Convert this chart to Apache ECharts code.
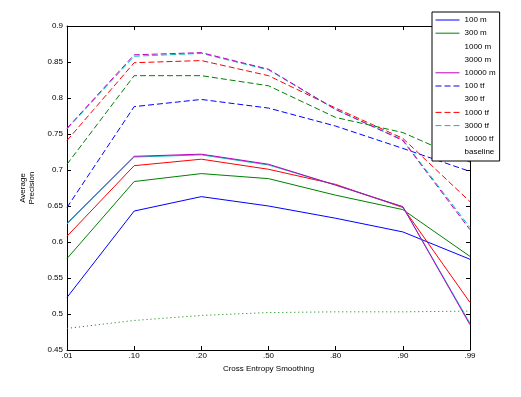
<!DOCTYPE html>
<html>
<head>
<meta charset="utf-8">
<title>Average Precision</title>
<script src="https://cdn.jsdelivr.net/npm/echarts@6/dist/echarts.min.js"></script>
<style>
  html, body { margin: 0; padding: 0; background: #fff; }
  #chart { width: 521px; height: 397px; }
</style>
</head>
<body>
<div id="chart"></div>
<script>
  // x 轴：平滑参数
  var categories = ['.01', '.10', '.20', '.50', '.80', '.90', '.99']
  var yTickLabels = ['0.45', '0.5', '0.55', '0.6', '0.65', '0.7', '0.75', '0.8', '0.85', '0.9']

  // 实线组 (m)
  var m100 = [0.523, 0.643, 0.663, 0.650, 0.633, 0.614, 0.576]
  var m300 = [0.577, 0.684, 0.695, 0.688, 0.665, 0.645, 0.580]
  var m1000 = [0.608, 0.706, 0.715, 0.701, 0.680, 0.648, 0.516]
  var m3000 = [0.625, 0.718, 0.721, 0.707, 0.679, 0.649, 0.487]
  var m10000 = [0.626, 0.719, 0.722, 0.708, 0.679, 0.649, 0.485]
  // 虚线组 (tf)
  var tf100 = [0.648, 0.788, 0.798, 0.786, 0.761, 0.730, 0.698]
  var tf300 = [0.708, 0.831, 0.831, 0.817, 0.773, 0.752, 0.711]
  var tf1000 = [0.741, 0.849, 0.852, 0.831, 0.786, 0.744, 0.656]
  var tf3000 = [0.757, 0.858, 0.862, 0.839, 0.784, 0.742, 0.620]
  var tf10000 = [0.758, 0.860, 0.863, 0.840, 0.784, 0.741, 0.617]
  var baseline = [0.480, 0.491, 0.498, 0.502, 0.503, 0.503, 0.504]

  var font = 'Liberation Sans'
  var blue = '#0000ff', green = '#008000', red = '#ff0000', cyan = '#00bfbf', magenta = '#bf00bf'

  function line (name, data, color, type) {
    return {
      name: name,
      type: 'line',
      data: data,
      symbol: 'none',
      animation: false,
      lineStyle: { color: color, width: 1, type: type },
      itemStyle: { color: color }
    }
  }

  // 图例里这几项没有画出线样
  var noSample = { lineStyle: { opacity: 0 }, itemStyle: { opacity: 0 } }

  var chart = echarts.init(document.getElementById('chart'))
  chart.setOption({
    backgroundColor: '#fff',
    textStyle: { fontFamily: font },
    grid: { left: 67, right: 51, top: 26, bottom: 47 },
    legend: {
      orient: 'vertical',
      left: 432,
      top: 12,
      padding: [4, 4, 5, 3],
      itemWidth: 24,
      itemHeight: 8,
      itemGap: 5.2,
      backgroundColor: '#fff',
      borderColor: '#000',
      borderWidth: 1,
      borderRadius: 0,
      itemStyle: { opacity: 0 }, // 只要线样，不要圆点
      lineStyle: { width: 1 },
      textStyle: { color: '#000', fontSize: 8, fontFamily: font, lineHeight: 8 },
      data: [
        { name: '100 m' },
        { name: '300 m' },
        Object.assign({ name: '1000 m' }, noSample),
        Object.assign({ name: '3000 m' }, noSample),
        { name: '10000 m' },
        { name: '100 tf' },
        Object.assign({ name: '300 tf' }, noSample),
        { name: '1000 tf' },
        { name: '3000 tf' },
        Object.assign({ name: '10000 tf' }, noSample),
        Object.assign({ name: 'baseline' }, noSample)
      ]
    },
    xAxis: [
      {
        type: 'category',
        data: categories,
        boundaryGap: false,
        name: 'Cross Entropy Smoothing',
        nameLocation: 'middle',
        nameGap: 13,
        nameTextStyle: { color: '#000', fontSize: 8, fontFamily: font },
        axisLine: { lineStyle: { color: '#000', width: 1 } },
        axisTick: { inside: true, length: 4, alignWithLabel: true, lineStyle: { color: '#000' } },
        axisLabel: { color: '#000', fontSize: 8, margin: 2, fontFamily: font, interval: 0 },
        splitLine: { show: false }
      },
      {
        type: 'category',
        position: 'top',
        data: categories,
        boundaryGap: false,
        axisLine: { lineStyle: { color: '#000', width: 1 } },
        axisTick: { inside: true, length: 4, lineStyle: { color: '#000' } },
        axisLabel: { show: false },
        splitLine: { show: false }
      }
    ],
    yAxis: [
      {
        type: 'value',
        min: 0.45,
        max: 0.9,
        interval: 0.05,
        name: 'Average\nPrecision',
        nameLocation: 'middle',
        nameGap: 24,
        nameTextStyle: { color: '#000', fontSize: 8, fontFamily: font, lineHeight: 9 },
        axisLine: { show: true, lineStyle: { color: '#000', width: 1 } },
        axisTick: { show: true, inside: true, length: 4, lineStyle: { color: '#000' } },
        axisLabel: {
          color: '#000',
          fontSize: 8,
          margin: 4,
          fontFamily: font,
          formatter: function (v) {
            return yTickLabels[Math.round((v - 0.45) / 0.05)]
          }
        },
        splitLine: { show: false }
      },
      {
        type: 'value',
        position: 'right',
        min: 0.45,
        max: 0.9,
        interval: 0.05,
        axisLine: { show: true, lineStyle: { color: '#000', width: 1 } },
        axisTick: { show: true, inside: true, length: 4, lineStyle: { color: '#000' } },
        axisLabel: { show: false },
        splitLine: { show: false }
      }
    ],
    series: [
      line('100 m', m100, blue, 'solid'),
      line('300 m', m300, green, 'solid'),
      line('1000 m', m1000, red, 'solid'),
      line('3000 m', m3000, cyan, 'solid'),
      line('10000 m', m10000, magenta, 'solid'),
      line('100 tf', tf100, blue, [6, 3]),
      line('300 tf', tf300, green, [6, 3]),
      line('1000 tf', tf1000, red, [6, 3]),
      line('3000 tf', tf3000, cyan, [6, 3]),
      line('10000 tf', tf10000, magenta, [6, 3]),
      line('baseline', baseline, green, [1, 3])
    ]
  })
</script>
</body>
</html>
